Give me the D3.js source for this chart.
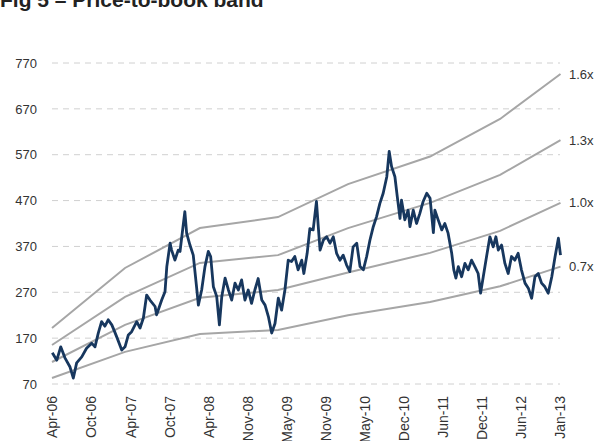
<!DOCTYPE html>
<html>
<head>
<meta charset="utf-8">
<script src="https://cdn.jsdelivr.net/npm/d3@7"></script>
<style>
  body { margin: 0; background: #fff; }
  text { font-family: "Liberation Sans", Arial, sans-serif; }
</style>
</head>
<body>
<div id="chart"></div>
<script>
// Tick labels, one every 130 trading days
const tickLabels = ["Apr-06", "Oct-06", "Apr-07", "Oct-07", "Apr-08", "Nov-08", "May-09",
  "Nov-09", "May-10", "Dec-10", "Jun-11", "Dec-11", "Jun-12", "Jan-13"];
const yTicks = [70, 170, 270, 370, 470, 570, 670, 770];

// Share price: trading-day index and price
const priceDays = [1, 16, 29, 43, 60, 71, 82, 99, 115, 132, 143, 154, 165, 176, 187, 199, 206, 217,
  232, 243, 254, 265, 282, 293, 304, 315, 326, 343, 348, 365, 376, 382, 393, 398, 409, 420,
  426, 442, 448, 459, 470, 481, 487, 498, 509, 520, 528, 537, 548, 557, 565, 576, 587, 598,
  609, 620, 631, 642, 653, 664, 675, 686, 698, 709, 720, 731, 742, 753, 764, 775, 786, 797,
  808, 819, 831, 838, 849, 858, 869, 880, 886, 892, 903, 914, 925, 936, 947, 958, 969, 980,
  991, 1002, 1014, 1025, 1036, 1047, 1058, 1069, 1080, 1091, 1102, 1114, 1122, 1130, 1141,
  1149, 1158, 1163, 1174, 1185, 1191, 1202, 1213, 1224, 1235, 1247, 1258, 1269, 1274, 1285,
  1297, 1307, 1318, 1330, 1337, 1344, 1352, 1363, 1374, 1385, 1396, 1407, 1418, 1426, 1435,
  1446, 1457, 1468, 1477, 1485, 1496, 1507, 1518, 1529, 1540, 1551, 1562, 1574, 1585, 1596,
  1607, 1618, 1629, 1640, 1651, 1663, 1674, 1685, 1692];
const priceValues = [138, 122, 151, 127, 107, 83, 116, 129, 148, 159, 151, 181, 206, 196, 210, 199, 188, 170,
  144, 151, 177, 184, 206, 192, 214, 264, 253, 239, 221, 253, 271, 326, 377, 362, 340, 362,
  359, 446, 399, 373, 351, 282, 242, 275, 326, 359, 348, 282, 261, 199, 261, 301, 275, 253,
  290, 275, 297, 253, 275, 246, 275, 300, 253, 242, 217, 181, 202, 257, 231, 275, 340, 337,
  348, 319, 340, 311, 355, 409, 406, 468, 413, 362, 384, 391, 377, 391, 355, 340, 351, 330,
  315, 369, 377, 326, 319, 348, 384, 413, 435, 464, 486, 522, 577, 544, 522,
  478, 431, 471, 428, 449, 413, 449, 420, 442, 468, 486, 475, 400, 449, 428,
  406, 420, 399, 355, 319, 301, 326, 304, 333, 319, 340, 326, 311, 268, 304,
  348, 391, 369, 391, 362, 373, 333, 311, 348, 340, 355, 319, 290, 279, 257,
  304, 311, 290, 282, 268, 304, 348, 388, 351];

// P/B band lines at book-value change points
const bandDays = [0, 243, 492, 752, 985, 1258, 1491, 1692];
const bandNames = ["1.6x", "1.3x", "1.0x", "0.7x"];
const band16 = [192, 323, 410, 434, 506, 566, 648, 746];
const band13 = [155, 260, 334, 351, 410, 465, 526, 602];
const band10 = [118, 199, 258, 275, 313, 356, 404, 465];
const band07 = [83, 140, 179, 188, 220, 249, 283, 326];

const width = 596, height = 441;
const svg = d3.select("#chart").append("svg")
  .attr("width", width)
  .attr("height", height);

const xScale = d3.scaleLinear().domain([0, 1692]).range([52, 560.5]);
const yScale = d3.scaleLinear().domain([70, 770]).range([384, 63]);

// title (top is cut off in the original)
svg.append("text")
  .attr("x", 0)
  .attr("y", 7)
  .attr("font-size", 21)
  .attr("font-weight", "bold")
  .attr("fill", "#222")
  .text("Fig 5 \u2013 Price-to-book band");

// dashed gridlines
svg.append("g")
  .selectAll("line")
  .data(yTicks)
  .join("line")
  .attr("x1", 52)
  .attr("x2", 560)
  .attr("y1", d => yScale(d))
  .attr("y2", d => yScale(d))
  .attr("stroke", "#d0d0d0")
  .attr("stroke-width", 1)
  .attr("stroke-dasharray", "6,5");

// y axis labels
const yAxis = d3.axisLeft(yScale).tickValues(yTicks).tickSize(0).tickPadding(0);
const yg = svg.append("g")
  .attr("transform", "translate(37,0)")
  .call(yAxis);
yg.select(".domain").remove();
yg.selectAll("text")
  .attr("font-size", 13)
  .attr("font-family", "Liberation Sans, Arial, sans-serif")
  .attr("fill", "#333");

// x axis labels, rotated
const xAxis = d3.axisBottom(xScale)
  .tickValues(tickLabels.map((d, i) => i * 130))
  .tickFormat((d, i) => tickLabels[i])
  .tickSize(0);
const xg = svg.append("g")
  .attr("transform", "translate(0,396)")
  .call(xAxis);
xg.select(".domain").remove();
xg.selectAll("text")
  .attr("font-size", 14)
  .attr("font-family", "Liberation Sans, Arial, sans-serif")
  .attr("fill", "#333")
  .attr("transform", "rotate(-90)")
  .attr("text-anchor", "end")
  .attr("x", 0)
  .attr("y", 0)
  .attr("dy", "0.35em");

// band lines
const bandLine = d3.line()
  .x((d, i) => xScale(bandDays[i]))
  .y(d => yScale(d));

const bands = [band16, band13, band10, band07];
bands.forEach(function (b, k) {
  svg.append("path")
    .datum(b)
    .attr("fill", "none")
    .attr("stroke", "#a6a6a6")
    .attr("stroke-width", 2)
    .attr("d", bandLine);

  svg.append("text")
    .attr("x", 569)
    .attr("y", yScale(b[b.length - 1]))
    .attr("dy", "0.35em")
    .attr("font-size", 13)
    .attr("fill", "#333")
    .text(bandNames[k]);
});

// price line
const priceLine = d3.line()
  .x((d, i) => xScale(priceDays[i]))
  .y(d => yScale(d));

svg.append("path")
  .datum(priceValues)
  .attr("fill", "none")
  .attr("stroke", "#17375e")
  .attr("stroke-width", 2.8)
  .attr("stroke-linejoin", "round")
  .attr("d", priceLine);
</script>
</body>
</html>
